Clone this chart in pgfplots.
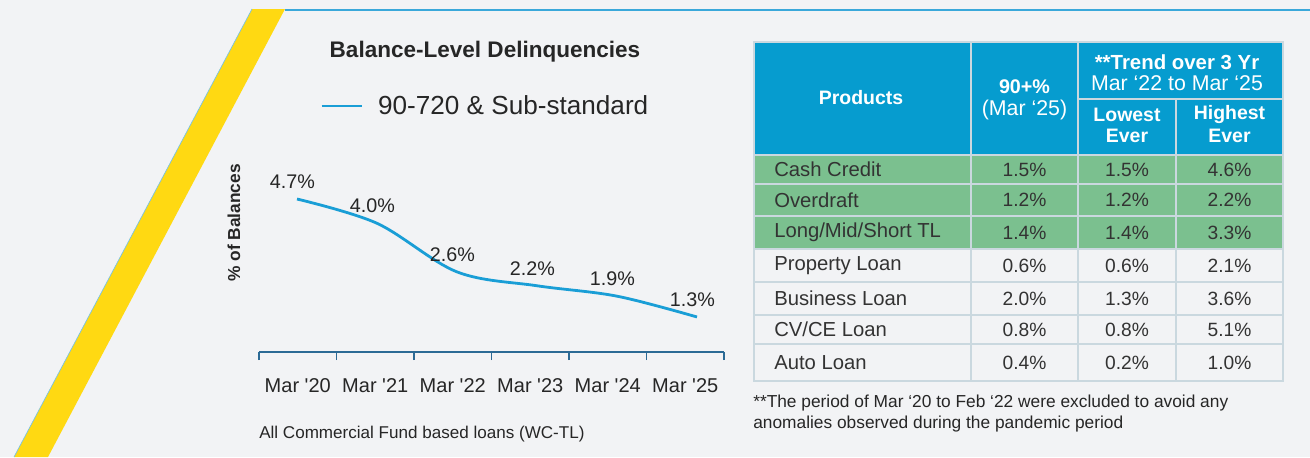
\documentclass[border=0pt]{standalone}
\usepackage{pgfplots}
\pgfplotsset{compat=1.18}
\usepackage{fontspec}
\setmainfont{Liberation Sans}
\definecolor{bg}{HTML}{F2F3F5}
\definecolor{ylw}{HTML}{FFD912}
\definecolor{topblue}{HTML}{3AA8DA}
\definecolor{lineblue}{HTML}{1A9ED6}
\definecolor{axisblue}{HTML}{2B6A95}
\definecolor{hdrblue}{HTML}{069CCF}
\definecolor{grn}{HTML}{7BC08F}
\definecolor{gridc}{HTML}{CAD8DF}
\definecolor{txt}{HTML}{262626}
\definecolor{tbltxt}{HTML}{333333}
\newcommand{\fs}[1]{\fontsize{#1}{1.2\dimexpr#1pt\relax}\selectfont}
\begin{document}
\begin{tikzpicture}
\begin{scope}[x=0.75pt,y=-0.75pt]
\fill[bg] (0,0) rectangle (1310,457);
\useasboundingbox (0,0) rectangle (1310,457);
% decorations
\fill[ylw] (252,9) -- (285,9) -- (48,457) -- (14,457) -- cycle;
\draw[topblue!70, line width=0.5pt] (252,9) -- (14,457);
\draw[topblue, line width=1.5pt] (285,9.5) -- (1310,9.5);
% chart texts
\node[font=\fs{16.9}\bfseries, text=txt] at (485,52) {Balance-Level Delinquencies};
\node[font=\fs{13}\bfseries, text=txt, rotate=90] at (234,223) {\% of Balances};
\node[font=\fs{12.8}, text=txt, anchor=west, inner sep=0pt] at (259,434) {All Commercial Fund based loans (WC-TL)};
\end{scope}
\begin{axis}[
  at={(194.25pt,-264pt)}, anchor=south west,
  scale only axis, width=348.75pt, height=122.55pt,
  xmin=-0.475, xmax=5.3375, ymin=0.291, ymax=5,
  axis x line*=bottom, axis y line=none,
  x axis line style={axisblue, line width=1.2pt},
  xtick={-0.475,0.49375,1.4625,2.43125,3.4,4.36875,5.3375},
  x tick label as interval,
  xticklabels={Mar \textquotesingle 20,Mar \textquotesingle 21,Mar \textquotesingle 22,Mar \textquotesingle 23,Mar \textquotesingle 24,Mar \textquotesingle 25},
  major tick length=6pt, tick align=outside,
  xtick style={axisblue, line width=1.2pt},
  ytick=\empty,
  xticklabel style={font=\fs{15}, text=txt, anchor=base, yshift=-24pt},
  clip=false,
  legend style={at={(0.1312,1.5055)}, anchor=west, draw=none, fill=none,
    inner sep=0pt, font=\fs{19.6}, text=txt, nodes={inner sep=0pt}},
  legend image code/.code={\draw[#1] (0pt,0pt) -- (30pt,0pt); \path (41.25pt,0pt);},
]
\addplot[lineblue, line width=2.1pt, smooth, tension=0.55,
  nodes near coords, point meta=explicit symbolic,
  every node near coord/.append style={anchor=center, xshift=-3.4pt, yshift=13pt, font=\fs{14.8}, text=txt}]
  coordinates {(0,4.7)[4.7\%] (1,4.0)[4.0\%] (2,2.6)[2.6\%] (3,2.2)[2.2\%] (4,1.9)[1.9\%] (5,1.3)[1.3\%]};
\addlegendentry{90-720 \& Sub-standard}
\end{axis}
\begin{scope}[x=0.75pt,y=-0.75pt]
% table
\fill[hdrblue] (754,42) rectangle (1283,155);
\fill[grn] (754,155) rectangle (1283,249);
\begin{scope}[gridc, line width=1.1pt]
\foreach \yy in {155,184,216,249,282,315,344} \draw (754,\yy) -- (1283,\yy);
\draw (971,42) -- (971,381);
\draw (1078,42) -- (1078,381);
\draw (1176,99) -- (1176,381);
\draw (1078,99) -- (1283,99);
\draw (754,42) rectangle (1283,381);
\end{scope}
\begin{scope}[text=white]
\node[font=\fs{14.6}\bfseries] at (861,98) {Products};
\node[font=\fs{14.8}\bfseries] at (1024.5,87) {90+\%};
\node[font=\fs{16}] at (1024.5,110) {(Mar ‘25)};
\node[font=\fs{15.3}\bfseries] at (1177,62) {**Trend over 3 Yr};
\node[font=\fs{16}] at (1177,83) {Mar ‘22 to Mar ‘25};
\node[font=\fs{14.6}\bfseries] at (1127,115) {Lowest};
\node[font=\fs{14.6}\bfseries] at (1127,136) {Ever};
\node[font=\fs{14.6}\bfseries] at (1229.5,115) {Highest};
\node[font=\fs{14.6}\bfseries] at (1229.5,136) {Ever};
\end{scope}
\begin{scope}[text=tbltxt]
\node[font=\fs{15.2}, anchor=west, inner sep=0pt] at (774,169.5) {Cash Credit};
\node[font=\fs{15.2}, anchor=west, inner sep=0pt] at (774,200) {Overdraft};
\node[font=\fs{15.2}, anchor=west, inner sep=0pt] at (774,232.5) {Long/Mid/Short TL};
\node[font=\fs{15.2}, anchor=west, inner sep=0pt] at (774,265.5) {Property Loan};
\node[font=\fs{15.2}, anchor=west, inner sep=0pt] at (774,298.5) {Business Loan};
\node[font=\fs{15.2}, anchor=west, inner sep=0pt] at (774,329.5) {CV/CE Loan};
\node[font=\fs{15.2}, anchor=west, inner sep=0pt] at (774,362.5) {Auto Loan};
\foreach \a/\b/\c/\yy in {1.5/1.5/4.6/169.5, 1.2/1.2/2.2/200, 1.4/1.4/3.3/232.5, 0.6/0.6/2.1/265.5, 2.0/1.3/3.6/298.5, 0.8/0.8/5.1/329.5, 0.4/0.2/1.0/362.5}{
  \node[font=\fs{14.4}] at (1024.5,\yy) {\a\%};
  \node[font=\fs{14.4}] at (1127,\yy) {\b\%};
  \node[font=\fs{14.4}] at (1229.5,\yy) {\c\%};
}
\end{scope}
\node[font=\fs{13}, text=txt, anchor=west, inner sep=0pt] at (753,403) {**The period of Mar ‘20 to Feb ‘22 were excluded to avoid any};
\node[font=\fs{13}, text=txt, anchor=west, inner sep=0pt] at (753,424) {anomalies observed during the pandemic period};
\end{scope}
\end{tikzpicture}
\end{document}
